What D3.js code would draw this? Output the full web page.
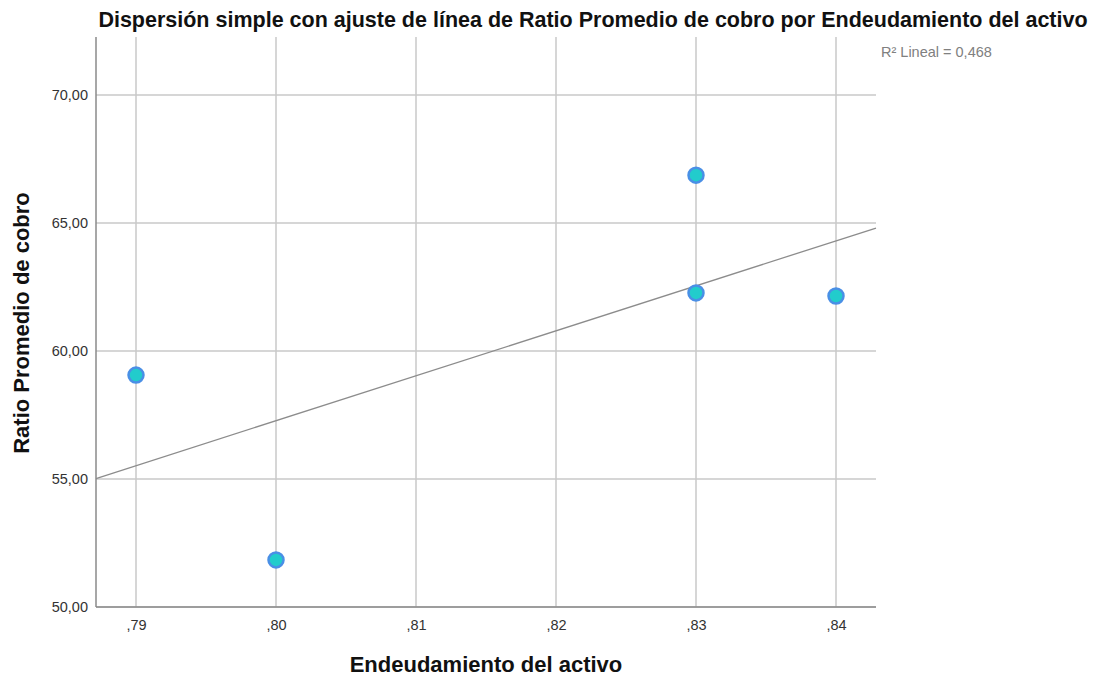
<!DOCTYPE html>
<html>
<head>
<meta charset="utf-8">
<script src="https://cdn.jsdelivr.net/npm/d3@7"></script>
<style>
  body { margin: 0; background: #fff; }
  svg { font-family: "Liberation Sans", Arial, sans-serif; }
  .grid line { stroke: #c8c8c8; stroke-width: 1.5; }
  .axis path, .axis line { stroke: #8a8a8a; stroke-width: 1.5; }
  .axis text { fill: #333; font-size: 14.5px; }
</style>
</head>
<body>
<svg id="chart" width="1098" height="677"></svg>
<script>
// data
var endeudamiento = [0.79, 0.80, 0.83, 0.83, 0.84];
var ratioCobro = [59.06, 51.84, 66.87, 62.27, 62.15];
var xTicks = [0.79, 0.80, 0.81, 0.82, 0.83, 0.84];
var yTicks = [50, 55, 60, 65, 70];
var titleText = "Dispersión simple con ajuste de línea de Ratio Promedio de cobro por Endeudamiento del activo";
var r2Text = "R² Lineal = 0,468";

var svg = d3.select("svg#chart"),
	margin = {top: 37, right: 222, bottom: 70, left: 96},
	width = +svg.attr("width") - margin.left - margin.right,
	height = +svg.attr("height") - margin.top - margin.bottom;

var g = svg.append("g").attr("transform", "translate(" + margin.left + "," + margin.top + ")");

var x = d3.scaleLinear()
	.domain([0.79 - 0.01 * 40 / 140, 0.84 + 0.01 * 40 / 140])
	.range([0, width]);

var y = d3.scaleLinear()
	.domain([50, 70 + 5 * 58 / 128])
	.range([height, 0]);

var fmtX = function(d) { return d3.format(".2f")(d).replace("0.", ","); };
var fmtY = function(d) { return d3.format(".2f")(d).replace(".", ","); };

// grid
g.append("g").attr("class", "grid")
	.selectAll("line.h").data(yTicks).enter().append("line")
	.attr("x1", 0).attr("x2", width)
	.attr("y1", function(d) { return y(d); }).attr("y2", function(d) { return y(d); });
g.append("g").attr("class", "grid")
	.selectAll("line.v").data(xTicks).enter().append("line")
	.attr("y1", 0).attr("y2", height)
	.attr("x1", function(d) { return x(d); }).attr("x2", function(d) { return x(d); });

// axes
var xAxis = g.append("g")
	.attr("class", "axis")
	.attr("transform", "translate(0," + height + ")")
	.call(d3.axisBottom(x).tickValues(xTicks).tickFormat(fmtX).tickSize(0).tickPadding(13).tickSizeOuter(0));
xAxis.select(".domain").attr("d", "M0,0H" + width);

var yAxis = g.append("g")
	.attr("class", "axis")
	.call(d3.axisLeft(y).tickValues(yTicks).tickFormat(fmtY).tickSize(0).tickPadding(8).tickSizeOuter(0));
yAxis.select(".domain").attr("d", "M0,0V" + height);
yAxis.selectAll(".tick text").attr("dy", "0.32em");

// linear fit
var mx = d3.mean(endeudamiento), my = d3.mean(ratioCobro);
var sxy = d3.sum(endeudamiento, function(d, i) { return (d - mx) * (ratioCobro[i] - my); });
var sxx = d3.sum(endeudamiento, function(d) { return (d - mx) * (d - mx); });
var slope = sxy / sxx, intercept = my - slope * mx;
var xd = x.domain();
g.append("line")
	.attr("x1", x(xd[0])).attr("y1", y(intercept + slope * xd[0]))
	.attr("x2", x(xd[1])).attr("y2", y(intercept + slope * xd[1]))
	.attr("stroke", "#8c8c8c").attr("stroke-width", 1.3);

// points
g.selectAll("circle.pt").data(endeudamiento).enter().append("circle")
	.attr("class", "pt")
	.attr("cx", function(d) { return x(d); })
	.attr("cy", function(d, i) { return y(ratioCobro[i]); })
	.attr("r", 7.5)
	.attr("fill", "#22cccc")
	.attr("stroke", "#4a8fe6")
	.attr("stroke-width", 2.5);

// texts
svg.append("text")
	.attr("x", 593).attr("y", 27)
	.attr("text-anchor", "middle")
	.attr("font-size", "21.5px").attr("font-weight", "bold").attr("fill", "#111")
	.text(titleText);

svg.append("text")
	.attr("x", 881).attr("y", 57)
	.attr("font-size", "14.5px").attr("fill", "#808080")
	.text(r2Text);

svg.append("text")
	.attr("x", 486).attr("y", 672)
	.attr("text-anchor", "middle")
	.attr("font-size", "22px").attr("font-weight", "bold").attr("fill", "#111")
	.text("Endeudamiento del activo");

svg.append("text")
	.attr("transform", "translate(29,323) rotate(-90)")
	.attr("text-anchor", "middle")
	.attr("font-size", "22px").attr("font-weight", "bold").attr("fill", "#111")
	.text("Ratio Promedio de cobro");
</script>
</body>
</html>
